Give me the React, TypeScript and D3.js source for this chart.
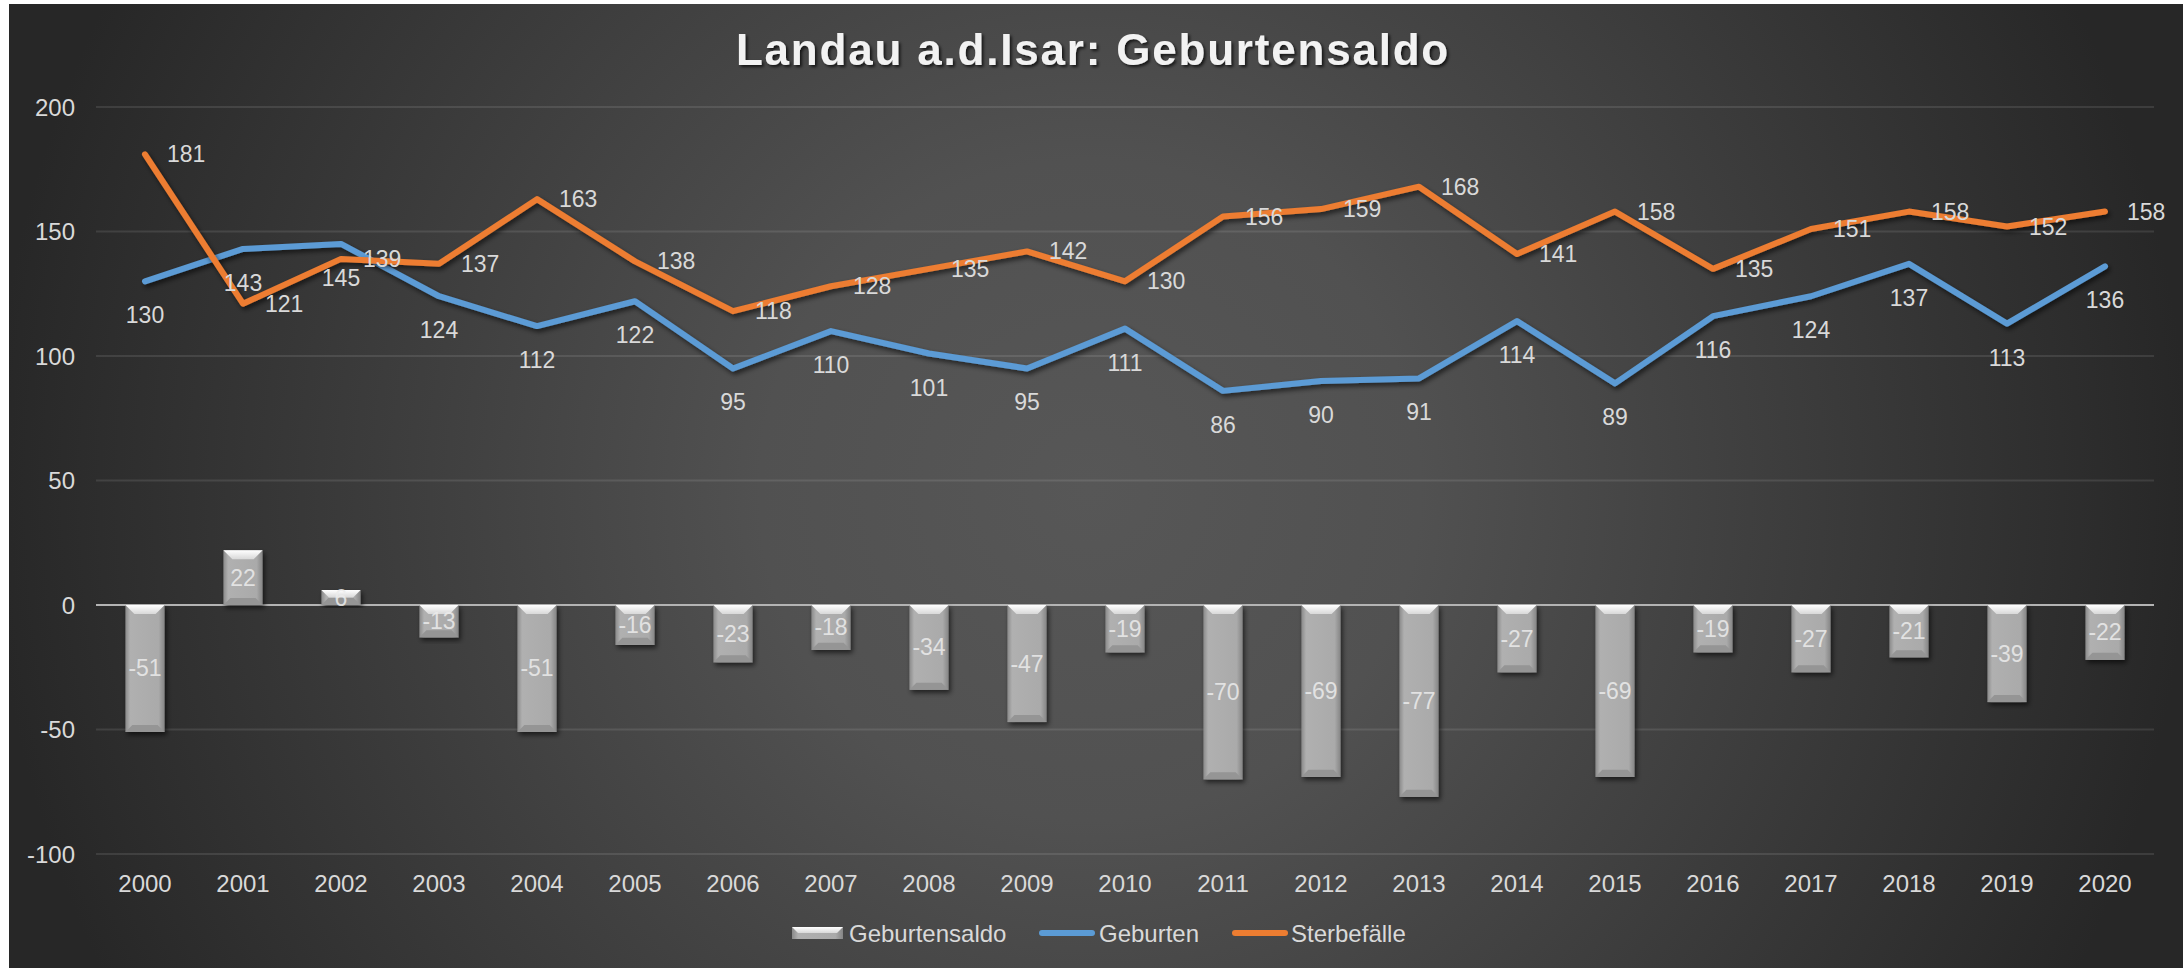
import React, { useEffect, useRef } from "react";
import * as d3 from "d3";

// Daten: Landau a.d.Isar, 2000 - 2020
const years = [
  "2000", "2001", "2002", "2003", "2004", "2005", "2006", "2007", "2008", "2009", "2010",
  "2011", "2012", "2013", "2014", "2015", "2016", "2017", "2018", "2019", "2020",
];
const geburten = [130, 143, 145, 124, 112, 122, 95, 110, 101, 95, 111, 86, 90, 91, 114, 89, 116, 124, 137, 113, 136];
const sterbefaelle = [181, 121, 139, 137, 163, 138, 118, 128, 135, 142, 130, 156, 159, 168, 141, 158, 135, 151, 158, 152, 158];
const saldo = [-51, 22, 6, -13, -51, -16, -23, -18, -34, -47, -19, -70, -69, -77, -27, -69, -19, -27, -21, -39, -22];
const yTicks = [-100, -50, 0, 50, 100, 150, 200];
const seriesNames = ["Geburtensaldo", "Geburten", "Sterbefälle"];
const title = "Landau a.d.Isar: Geburtensaldo";

const FONT = "'Liberation Sans', Arial, sans-serif";
const BLUE = "#5b9bd5";
const ORANGE = "#ed7d31";
const TEXT = "#d9d9d9";

const GeburtenChart = () => {
  const chartRef = useRef<SVGSVGElement>(null);

  useEffect(() => {
    document.body.style.margin = "0";
    const svg = d3.select(chartRef.current);
    svg.selectAll("*").remove(); // clear

    const width = 2183;
    const height = 968;
    svg.attr("width", width).attr("height", height);

    const defs = svg.append("defs");

    // background gradient
    const bg = defs
      .append("radialGradient")
      .attr("id", "bg")
      .attr("gradientUnits", "userSpaceOnUse")
      .attr("cx", 1090)
      .attr("cy", 490)
      .attr("r", 1100);
    bg.append("stop").attr("offset", 0).attr("stop-color", "#575757");
    bg.append("stop").attr("offset", 0.3).attr("stop-color", "#515151");
    bg.append("stop").attr("offset", 1).attr("stop-color", "#272727");

    // bar body gradient
    const barGrad = defs
      .append("linearGradient")
      .attr("id", "barGrad")
      .attr("x1", 0).attr("x2", 1).attr("y1", 0).attr("y2", 0);
    barGrad.append("stop").attr("offset", 0).attr("stop-color", "#8a8a8a");
    barGrad.append("stop").attr("offset", 0.12).attr("stop-color", "#b0b0b0");
    barGrad.append("stop").attr("offset", 0.85).attr("stop-color", "#aaaaaa");
    barGrad.append("stop").attr("offset", 1).attr("stop-color", "#858585");

    const bevelGrad = defs
      .append("linearGradient")
      .attr("id", "bevelGrad")
      .attr("x1", 0).attr("x2", 0).attr("y1", 0).attr("y2", 1);
    bevelGrad.append("stop").attr("offset", 0).attr("stop-color", "#ffffff");
    bevelGrad.append("stop").attr("offset", 1).attr("stop-color", "#d8d8d8");

    // shadows
    const shadow = defs.append("filter").attr("id", "shadow")
      .attr("x", "-20%").attr("y", "-20%").attr("width", "140%").attr("height", "140%");
    shadow.append("feDropShadow")
      .attr("dx", 2).attr("dy", 3).attr("stdDeviation", 2.5)
      .attr("flood-color", "#000").attr("flood-opacity", 0.6);

    const titleShadow = defs.append("filter").attr("id", "titleShadow");
    titleShadow.append("feDropShadow")
      .attr("dx", 2).attr("dy", 2).attr("stdDeviation", 1.5)
      .attr("flood-color", "#000").attr("flood-opacity", 0.7);

    // page + chart area
    svg.append("rect").attr("width", width).attr("height", height).attr("fill", "#ffffff");
    svg.append("rect")
      .attr("x", 9).attr("y", 4)
      .attr("width", width - 9).attr("height", height - 4)
      .attr("fill", "url(#bg)");

    // scales
    const x = d3.scaleBand().domain(years).range([96, 2154]).padding(0);
    const cx = (d: string) => (x(d) as number) + x.bandwidth() / 2;
    const y = d3.scaleLinear().domain([-100, 200]).range([854, 107]);

    // title
    svg.append("text")
      .attr("x", 1093)
      .attr("y", 65)
      .attr("text-anchor", "middle")
      .attr("font-family", FONT)
      .attr("font-size", "44px")
      .attr("font-weight", "bold")
      .attr("letter-spacing", "1.8px")
      .attr("fill", "#f2f2f2")
      .attr("filter", "url(#titleShadow)")
      .text(title);

    // gridlines
    svg.append("g")
      .selectAll("line")
      .data(yTicks.filter((t) => t !== 0))
      .enter()
      .append("line")
      .attr("x1", 96)
      .attr("x2", 2154)
      .attr("y1", (d) => y(d))
      .attr("y2", (d) => y(d))
      .attr("stroke", "#ffffff")
      .attr("stroke-opacity", 0.1)
      .attr("stroke-width", 2);

    // y axis labels
    svg.append("g")
      .selectAll("text")
      .data(yTicks)
      .enter()
      .append("text")
      .attr("x", 75)
      .attr("y", (d) => y(d))
      .attr("text-anchor", "end")
      .attr("dominant-baseline", "central")
      .attr("font-family", FONT)
      .attr("font-size", "24px")
      .attr("fill", TEXT)
      .text((d) => d);

    // x axis labels
    svg.append("g")
      .selectAll("text")
      .data(years)
      .enter()
      .append("text")
      .attr("x", (d) => cx(d))
      .attr("y", 883)
      .attr("text-anchor", "middle")
      .attr("dominant-baseline", "central")
      .attr("font-family", FONT)
      .attr("font-size", "24px")
      .attr("fill", TEXT)
      .text((d) => d);

    // zero line
    svg.append("line")
      .attr("x1", 96)
      .attr("x2", 2154)
      .attr("y1", y(0))
      .attr("y2", y(0))
      .attr("stroke", "#b4b4b4")
      .attr("stroke-width", 2);

    // bars
    const bw = x.bandwidth() * 0.4;
    const barData = saldo.map((v, i) => ({ year: years[i], v }));
    const bars = svg.append("g")
      .selectAll("g")
      .data(barData)
      .enter()
      .append("g")
      .attr("filter", "url(#shadow)");

    bars.append("rect")
      .attr("x", (d) => cx(d.year) - bw / 2)
      .attr("y", (d) => y(Math.max(0, d.v)))
      .attr("width", bw)
      .attr("height", (d) => Math.abs(y(d.v) - y(0)))
      .attr("fill", "url(#barGrad)");

    // bevel top
    bars.append("polygon")
      .attr("points", (d) => {
        const x0 = cx(d.year) - bw / 2;
        const top = y(Math.max(0, d.v));
        const h = Math.abs(y(d.v) - y(0));
        const b = Math.min(9, h / 2);
        return [
          [x0, top], [x0 + bw, top], [x0 + bw - b, top + b], [x0 + b, top + b],
        ].map((p) => p.join(",")).join(" ");
      })
      .attr("fill", "url(#bevelGrad)");

    // bevel bottom
    bars.append("polygon")
      .attr("points", (d) => {
        const x0 = cx(d.year) - bw / 2;
        const bottom = y(Math.min(0, d.v));
        const h = Math.abs(y(d.v) - y(0));
        const b = Math.min(7, h / 2);
        return [
          [x0, bottom], [x0 + bw, bottom], [x0 + bw - b, bottom - b], [x0 + b, bottom - b],
        ].map((p) => p.join(",")).join(" ");
      })
      .attr("fill", "#959595");

    // bar labels
    svg.append("g")
      .selectAll("text")
      .data(barData)
      .enter()
      .append("text")
      .attr("x", (d) => cx(d.year))
      .attr("y", (d) => y(d.v / 2))
      .attr("text-anchor", "middle")
      .attr("dominant-baseline", "central")
      .attr("font-family", FONT)
      .attr("font-size", "23px")
      .attr("fill", "#ececec")
      .attr("fill-opacity", 0.85)
      .text((d) => d.v);

    // lines
    const line = d3
      .line<number>()
      .x((d, i) => cx(years[i]))
      .y((d) => y(d));

    const seriesLines = [
      { values: geburten, color: BLUE },
      { values: sterbefaelle, color: ORANGE },
    ];
    seriesLines.forEach((s) => {
      svg.append("path")
        .datum(s.values)
        .attr("d", line)
        .attr("fill", "none")
        .attr("stroke", s.color)
        .attr("stroke-width", 6)
        .attr("stroke-linejoin", "round")
        .attr("stroke-linecap", "round")
        .attr("filter", "url(#shadow)");
    });

    // Geburten labels (below)
    svg.append("g")
      .selectAll("text")
      .data(geburten)
      .enter()
      .append("text")
      .attr("x", (d, i) => cx(years[i]))
      .attr("y", (d) => y(d) + 34)
      .attr("text-anchor", "middle")
      .attr("dominant-baseline", "central")
      .attr("font-family", FONT)
      .attr("font-size", "23px")
      .attr("fill", TEXT)
      .text((d) => d);

    // Sterbefälle labels (right)
    svg.append("g")
      .selectAll("text")
      .data(sterbefaelle)
      .enter()
      .append("text")
      .attr("x", (d, i) => cx(years[i]) + 22)
      .attr("y", (d) => y(d))
      .attr("text-anchor", "start")
      .attr("dominant-baseline", "central")
      .attr("font-family", FONT)
      .attr("font-size", "23px")
      .attr("fill", TEXT)
      .text((d) => d);

    // legend
    const ly = 933;
    const legend = svg.append("g");
    // Geburtensaldo swatch
    legend.append("rect")
      .attr("x", 792).attr("y", ly - 6)
      .attr("width", 51).attr("height", 12)
      .attr("fill", "url(#barGrad)");
    legend.append("polygon")
      .attr("points", `792,${ly - 6} 843,${ly - 6} 837,${ly} 798,${ly}`)
      .attr("fill", "url(#bevelGrad)");
    legend.append("line")
      .attr("x1", 1042).attr("x2", 1092)
      .attr("y1", ly).attr("y2", ly)
      .attr("stroke", BLUE).attr("stroke-width", 6).attr("stroke-linecap", "round");
    legend.append("line")
      .attr("x1", 1235).attr("x2", 1285)
      .attr("y1", ly).attr("y2", ly)
      .attr("stroke", ORANGE).attr("stroke-width", 6).attr("stroke-linecap", "round");

    const legendX = [849, 1099, 1291];
    legend.selectAll("text")
      .data(seriesNames)
      .enter()
      .append("text")
      .attr("x", (d, i) => legendX[i])
      .attr("y", ly)
      .attr("dominant-baseline", "central")
      .attr("font-family", FONT)
      .attr("font-size", "24px")
      .attr("fill", TEXT)
      .text((d) => d);
  }, []);

  return <svg ref={chartRef} style={{ display: "block" }}></svg>;
};

export default function App() {
  return <GeburtenChart />;
}
